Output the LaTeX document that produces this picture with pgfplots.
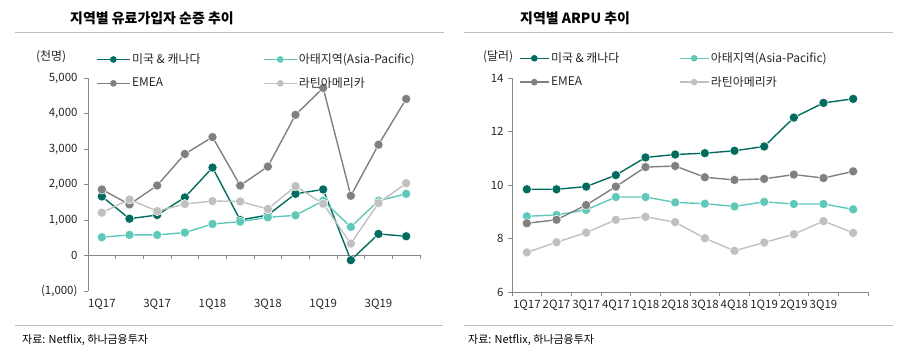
\documentclass[border=0pt]{standalone}
\usepackage{fontspec}
\setmainfont{Noto Sans CJK KR}
\usepackage{pgfplots}
\pgfplotsset{compat=1.18}
\definecolor{usc}{RGB}{0,107,94}
\definecolor{apc}{RGB}{95,200,185}
\definecolor{emc}{RGB}{128,128,128}
\definecolor{lac}{RGB}{192,192,192}
\definecolor{axisgray}{RGB}{134,134,134}
\definecolor{sepgray}{RGB}{191,191,191}
\pgfplotsset{
  ser/.style={color=#1, line width=1.4bp, mark=*, mark size=4.6bp,
    mark options={draw=white, line width=0.5bp, fill=#1}},
  common/.style={
    scale only axis, anchor=south west, clip=false,
    xmin=0.5, xmax=12.5,
    axis y line*=left, axis x line*=bottom,
    axis line style={axisgray, line width=0.8bp},
    tick align=outside, major tick length=4bp, minor tick length=4bp,
    ytick style={axisgray, line width=0.8bp},
    tick label style={font=\fontsize{11.5}{13}\selectfont, text=black!85},
    legend columns=2,
    legend cell align=left,
  },
  limg/.style={
    legend image code/.code={
      \draw[##1, mark=none, line width=1.4bp] (0bp,0bp) -- (#1,0bp);
      \fill[##1] (0.5*#1,0bp) circle (2.6bp);}},
}
\begin{document}
\begin{tikzpicture}
\useasboundingbox (0bp,0bp) rectangle (900bp,351bp);
% titles
\node[anchor=west, font=\bfseries\fontsize{14}{16}\selectfont, inner sep=0pt] at (70bp,333bp) {지역별 유료가입자 순증 추이};
\node[anchor=west, font=\bfseries\fontsize{14}{16}\selectfont, inner sep=0pt] at (520bp,333bp) {지역별 ARPU 추이};
\draw[sepgray, line width=1bp] (15bp,318bp) -- (444bp,318bp);
\draw[sepgray, line width=1bp] (464bp,318bp) -- (893bp,318bp);
\draw[sepgray, line width=1bp] (15bp,25.5bp) -- (443bp,25.5bp);
\draw[sepgray, line width=1bp] (464bp,25.5bp) -- (893bp,25.5bp);
\node[anchor=west, font=\fontsize{11}{13}\selectfont, inner sep=0pt] at (22bp,11bp) {자료: Netflix, 하나금융투자};
\node[anchor=west, font=\fontsize{11}{13}\selectfont, inner sep=0pt] at (468bp,11bp) {자료: Netflix, 하나금융투자};
\node[anchor=west, font=\fontsize{12}{14}\selectfont, inner sep=0pt, text=black!85] at (36bp,294bp) {(천명)};
\node[anchor=west, font=\fontsize{12}{14}\selectfont, inner sep=0pt, text=black!85] at (483bp,294.5bp) {(달러)};

% ---------------- left chart ----------------
\begin{axis}[common, limg=33bp,
  at={(88bp,60bp)}, width=332bp, height=213bp,
  ymin=-1000, ymax=5000,
  ytick={-1000,0,1000,2000,3000,4000,5000},
  yticklabels={{(1,000)},0,{1,000},{2,000},{3,000},{4,000},{5,000}},
  yticklabel style={xshift=-3bp},
  x axis line style={draw=none},
  xtick={1,3,5,7,9,11},
  xticklabels={1Q17,3Q17,1Q18,3Q18,1Q19,3Q19},
  xtick style={draw=none},
  legend style={draw=none, fill=none, at={(0.015,1.131)}, anchor=north west,
    font=\fontsize{12}{14}\selectfont, text=black!85,
    row sep=9.5bp, nodes={inner sep=1.5bp},
    /tikz/every even column/.append style={column sep=61bp}},
]
\draw[axisgray, line width=0.8bp] (axis cs:0.5,0) -- (axis cs:12.5,0);
\pgfplotsinvokeforeach{0.5,1.5,2.5,3.5,4.5,5.5,6.5,7.5,8.5,9.5,10.5,11.5,12.5}{
  \draw[axisgray, line width=0.8bp] (axis cs:#1,0) -- ++(0bp,-4bp);
}
\addplot[ser=usc] coordinates {(1,1664) (2,1037) (3,1140) (4,1636) (5,2477) (6,1000) (7,1140) (8,1738) (9,1860) (10,-131) (11,607) (12,542)};
\addlegendentry{미국 \& 캐나다}
\addplot[ser=apc] coordinates {(1,514) (2,580) (3,580) (4,645) (5,888) (6,953) (7,1075) (8,1131) (9,1542) (10,804) (11,1542) (12,1738)};
\addlegendentry{아태지역(Asia-Pacific)}
\addplot[ser=emc] coordinates {(1,1860) (2,1439) (3,1972) (4,2860) (5,3336) (6,1972) (7,2505) (8,3963) (9,4720) (10,1682) (11,3121) (12,4411)};
\addlegendentry{EMEA}
\addplot[ser=lac] coordinates {(1,1206) (2,1579) (3,1252) (4,1449) (5,1533) (6,1523) (7,1308) (8,1953) (9,1458) (10,336) (11,1477) (12,2037)};
\addlegendentry{라틴아메리카}
\end{axis}

% ---------------- right chart ----------------
\begin{axis}[common, limg=29bp,
  at={(512bp,59bp)}, width=356bp, height=214bp,
  ymin=6, ymax=14,
  ytick={6,8,10,12,14},
  yticklabels={6,8,10,12,14},
  yticklabel style={xshift=-1bp},
  xtick={1,2,3,4,5,6,7,8,9,10,11},
  xticklabels={1Q17,2Q17,3Q17,4Q17,1Q18,2Q18,3Q18,4Q18,1Q19,2Q19,3Q19},
  minor xtick={0.5,1.5,2.5,3.5,4.5,5.5,6.5,7.5,8.5,9.5,10.5,11.5,12.5},
  major x tick style={draw=none},
  minor x tick style={axisgray, line width=0.8bp},
  xticklabel style={inner xsep=0pt},
  legend style={draw=none, fill=none, at={(0.011,1.136)}, anchor=north west,
    font=\fontsize{12}{14}\selectfont, text=black!85,
    row sep=9.5bp, nodes={inner sep=1.5bp},
    /tikz/every even column/.append style={column sep=58bp}},
]
\addplot[ser=usc] coordinates {(1,9.84) (2,9.84) (3,9.94) (4,10.37) (5,11.03) (6,11.14) (7,11.19) (8,11.28) (9,11.44) (10,12.52) (11,13.07) (12,13.22)};
\addlegendentry{미국 \& 캐나다}
\addplot[ser=apc] coordinates {(1,8.83) (2,8.88) (3,9.07) (4,9.55) (5,9.55) (6,9.35) (7,9.30) (8,9.20) (9,9.37) (10,9.29) (11,9.29) (12,9.09)};
\addlegendentry{아태지역(Asia-Pacific)}
\addplot[ser=emc] coordinates {(1,8.57) (2,8.70) (3,9.25) (4,9.94) (5,10.67) (6,10.71) (7,10.29) (8,10.19) (9,10.23) (10,10.39) (11,10.26) (12,10.51)};
\addlegendentry{EMEA}
\addplot[ser=lac] coordinates {(1,7.48) (2,7.86) (3,8.22) (4,8.70) (5,8.81) (6,8.61) (7,8.01) (8,7.54) (9,7.85) (10,8.16) (11,8.65) (12,8.21)};
\addlegendentry{라틴아메리카}
\end{axis}
\end{tikzpicture}
\end{document}
